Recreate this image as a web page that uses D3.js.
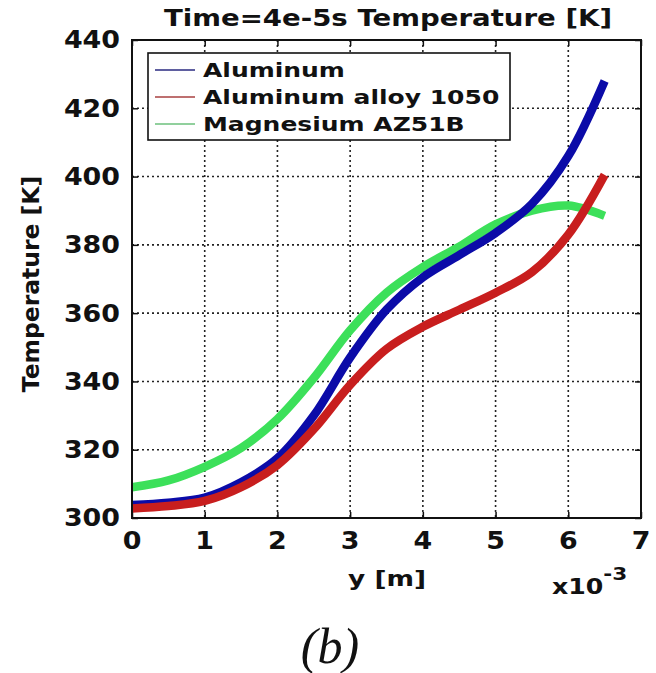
<!DOCTYPE html>
<html>
<head>
<meta charset="utf-8">
<script src="https://cdn.jsdelivr.net/npm/d3@7/dist/d3.min.js"></script>
<style>
  html, body { margin: 0; padding: 0; background: #fff; }
  svg { display: block; }
  text { font-family: "DejaVu Sans", Verdana, sans-serif; font-weight: bold; fill: #111; }
</style>
</head>
<body>
<svg id="chart" width="656" height="673"></svg>
<script>
// Position along y (in units of 1e-3 m)
const positions = [0, 0.5, 1, 1.5, 2, 2.5, 3, 3.5, 4, 4.5, 5, 5.5, 6, 6.5];

// Temperature profiles [K] at t = 4e-5 s
const aluminum     = [303.8, 304.5, 306, 310.5, 317.5, 330, 347, 361, 370.5, 377, 383.5, 392, 406, 428];
const alloy1050    = [302.8, 303.5, 305, 309, 315.5, 326, 339, 349.5, 356, 361, 366, 372, 383, 400.5];
const magnesiumAZ  = [309, 311, 315, 320.5, 329, 341, 355, 366, 373.5, 379.5, 386, 390, 391.5, 388.5];

const seriesNames  = ["Aluminum", "Aluminum alloy 1050", "Magnesium AZ51B"];
const seriesColors = ["#0b0ba8", "#c81e1e", "#3ce05a"];
const legendColors = ["#2a2a80", "#a84040", "#6cc07c"];

const xTicks = [0, 1, 2, 3, 4, 5, 6, 7];
const yTicks = [300, 320, 340, 360, 380, 400, 420, 440];

const svg = d3.select("#chart");
const plot = { left: 132, top: 40, right: 641, bottom: 518 };

const x = d3.scaleLinear().domain([0, 7]).range([plot.left, plot.right]);
const y = d3.scaleLinear().domain([300, 440]).range([plot.bottom, plot.top]);

function label(g, txt, px, py, size, anchor, stretch) {
  return g.append("text")
    .attr("transform", `translate(${px},${py}) scale(${stretch},1)`)
    .attr("text-anchor", anchor)
    .attr("dominant-baseline", "central")
    .style("font-size", size + "px")
    .text(txt);
}

// dotted grid
const grid = svg.append("g");
grid.selectAll("line.gx").data(xTicks.slice(1, -1)).join("line")
  .attr("x1", d => x(d)).attr("x2", d => x(d))
  .attr("y1", plot.top).attr("y2", plot.bottom)
  .attr("stroke", "#222").attr("stroke-width", 1.6).attr("stroke-dasharray", "2,3");
grid.selectAll("line.gy").data(yTicks.slice(1, -1)).join("line")
  .attr("y1", d => y(d)).attr("y2", d => y(d))
  .attr("x1", plot.left).attr("x2", plot.right)
  .attr("stroke", "#222").attr("stroke-width", 1.6).attr("stroke-dasharray", "2,3");

// axes with inward ticks on all four sides
const tl = 6;
svg.append("g").attr("transform", `translate(0,${plot.bottom})`)
  .call(d3.axisBottom(x).tickValues(xTicks).tickSize(-tl).tickFormat(""))
  .call(g => g.select(".domain").remove());
svg.append("g").attr("transform", `translate(0,${plot.top})`)
  .call(d3.axisTop(x).tickValues(xTicks).tickSize(-tl).tickFormat(""))
  .call(g => g.select(".domain").remove());
svg.append("g").attr("transform", `translate(${plot.left},0)`)
  .call(d3.axisLeft(y).tickValues(yTicks).tickSize(-tl).tickFormat(""))
  .call(g => g.select(".domain").remove());
svg.append("g").attr("transform", `translate(${plot.right},0)`)
  .call(d3.axisRight(y).tickValues(yTicks).tickSize(-tl).tickFormat(""))
  .call(g => g.select(".domain").remove());
svg.selectAll(".tick line").attr("stroke", "#111").attr("stroke-width", 1.5);

// curves
const line = d3.line()
  .x((d, i) => x(positions[i]))
  .y(d => y(d))
  .curve(d3.curveCatmullRom.alpha(0.5));

const curves = svg.append("g");
[magnesiumAZ, aluminum, alloy1050].forEach((s, k) => {
  const idx = [2, 0, 1][k];
  curves.append("path").datum(s)
    .attr("d", line).attr("fill", "none")
    .attr("stroke", seriesColors[idx]).attr("stroke-width", 8.5)
    .attr("stroke-linecap", "butt").attr("stroke-linejoin", "round");
});

// frame
svg.append("rect")
  .attr("x", plot.left).attr("y", plot.top)
  .attr("width", plot.right - plot.left).attr("height", plot.bottom - plot.top)
  .attr("fill", "none").attr("stroke", "#111").attr("stroke-width", 2);

// tick labels
const tg = svg.append("g");
yTicks.forEach(v => label(tg, v, 120, y(v), 24, "end", 1.12));
xTicks.forEach(v => label(tg, v, x(v), 541, 24, "middle", 1.12));

// legend
const lg = svg.append("g");
lg.append("rect").attr("x", 148).attr("y", 53).attr("width", 362).attr("height", 87)
  .attr("fill", "#fff").attr("stroke", "#111").attr("stroke-width", 1.6);
seriesNames.forEach((n, i) => {
  const cy = 70 + i * 27;
  lg.append("line").attr("x1", 155).attr("x2", 195).attr("y1", cy).attr("y2", cy)
    .attr("stroke", legendColors[i]).attr("stroke-width", 1.3);
  label(lg, n, 203, cy, 20, "start", 1.25);
});

// titles
label(svg, "Time=4e-5s Temperature [K]", 388, 18, 23, "middle", 1.2);
label(svg, "y [m]", 387, 578, 22, "middle", 1.2);
const ex = svg.append("text")
  .attr("transform", "translate(552,586) scale(1.2,1)")
  .attr("dominant-baseline", "central")
  .style("font-size", "21px");
ex.append("tspan").text("x10");
ex.append("tspan").attr("dy", -12).style("font-size", "18px").text("-3");

svg.append("text")
  .attr("transform", "translate(31,284) rotate(-90) scale(1.02,1)")
  .attr("text-anchor", "middle")
  .attr("dominant-baseline", "central")
  .style("font-size", "23px")
  .text("Temperature [K]");

// panel caption
svg.append("text")
  .attr("x", 330).attr("y", 646)
  .attr("text-anchor", "middle").attr("dominant-baseline", "central")
  .style("font-family", "'Liberation Serif', 'DejaVu Serif', serif")
  .style("font-style", "italic").style("font-weight", "normal")
  .style("font-size", "50px")
  .text("(b)");
</script>
</body>
</html>
